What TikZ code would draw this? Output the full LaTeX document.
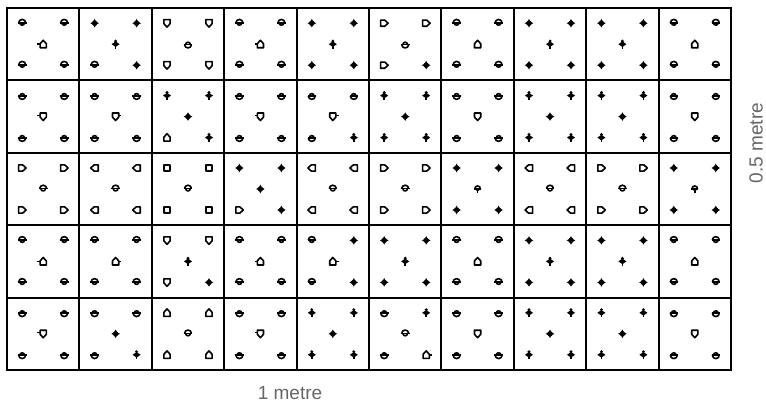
\documentclass[tikz,border=0pt]{standalone}
\usepackage{fontspec}
\setmainfont{Liberation Sans}

\tikzset{
  sym/.style={line width=1.6pt, line join=round},
  gridline/.style={line width=2pt},
  lbl/.style={font=\fontsize{19}{22}\selectfont, text=black!60, inner sep=0pt},
}

% plant symbols, #1 = position
\newcommand{\bellmark}{%
  \draw[sym] (-3.5,0.3) arc (180:0:3.5);
  \draw[sym] (-4.3,0.3) -- (4.3,0.3);
  \draw[sym] (-2.3,0.3) arc (180:360:2.3);}
\newcommand{\shieldmark}{%
  \draw[sym] (-3.1,3.6) -- (3.1,3.6) -- (3.1,-0.5) -- (0,-3.9) -- (-3.1,-0.5) -- cycle;}
\newcommand{\symO}[1]{\begin{scope}[shift={#1}]\bellmark\end{scope}}
\newcommand{\symU}[1]{\begin{scope}[shift={#1}, yscale=-1]\bellmark\end{scope}}
\newcommand{\symT}[1]{\begin{scope}[shift={#1}, scale=0.8]\bellmark
  \draw[sym] (0,-1.8) -- (0,-4.8);\end{scope}}
\newcommand{\symP}[1]{\begin{scope}[shift={#1}]\shieldmark\end{scope}}
\newcommand{\symH}[1]{\begin{scope}[shift={#1}, rotate=180]\shieldmark\end{scope}}
\newcommand{\symR}[1]{\begin{scope}[shift={#1}, rotate=90]\shieldmark\end{scope}}
\newcommand{\symL}[1]{\begin{scope}[shift={#1}, rotate=-90]\shieldmark\end{scope}}
\newcommand{\symS}[1]{\draw[sym, shift={#1}] (-3.1,-3.1) rectangle (3.1,3.1);}
\newcommand{\symh}[1]{\symH{#1}\draw[sym, shift={#1}] (-3.2,0) -- (-5.8,0);}
\newcommand{\symj}[1]{\symH{#1}\draw[sym, shift={#1}] (3.2,0) -- (5.8,0);}
\newcommand{\symp}[1]{\symP{#1}\draw[sym, shift={#1}] (-3.2,1.2) -- (-5.8,1.2);}
\newcommand{\symq}[1]{\symP{#1}\draw[sym, shift={#1}] (3.2,1.2) -- (5.8,1.2);}
\newcommand{\symK}[1]{\begin{scope}[shift={#1}]
  \fill (0,4.3) -- (1.5,1.5) -- (4.3,0) -- (1.5,-1.5) -- (0,-4.3) -- (-1.5,-1.5) -- (-4.3,0) -- (-1.5,1.5) -- cycle;
  \fill (0,0) circle (2.7);\end{scope}}
\newcommand{\symD}[1]{\begin{scope}[shift={#1}]
  \fill (0,2.8) -- (4,0) -- (0,-2.8) -- (-4,0) -- cycle;
  \fill (0,3.1) circle (1.6);
  \draw[sym] (0,-1.5) -- (0,-4.4);\end{scope}}

% one cell: x, y, top left, top right, bottom left, bottom right, middle
\newcommand{\plantcell}[7]{%
  \csname sym#3\endcsname{(#1-21,#2+21)}%
  \csname sym#4\endcsname{(#1+21,#2+21)}%
  \csname sym#5\endcsname{(#1-21,#2-21)}%
  \csname sym#6\endcsname{(#1+21,#2-21)}%
  \csname sym#7\endcsname{(#1,#2)}}

\begin{document}
\begin{tikzpicture}[x=1pt, y=1pt]
  \useasboundingbox (0,0) rectangle (766,405);

  \draw[gridline, shift={(7,35)}] (0,0) grid[xstep=72.4, ystep=72.4] (724.1,362.1);
  \draw[gridline] (7,35) rectangle (731,397);

  % row 1
  \foreach \pa/\pb/\pc/\pd/\pe [count=\i] in {O/O/O/O/h, K/K/O/K/D, P/P/P/P/U, O/O/O/O/h, K/K/K/K/D,
      R/R/R/K/U, O/O/O/O/H, K/K/K/K/D, K/K/K/K/D, O/O/O/O/H}
    {\pgfmathsetmacro\x{72.4*\i-29.2}\plantcell{\x}{360.8}{\pa}{\pb}{\pc}{\pd}{\pe}}
  % row 2
  \foreach \pa/\pb/\pc/\pd/\pe [count=\i] in {U/U/U/U/p, U/U/U/U/q, D/D/H/D/K, U/U/U/U/p, U/U/U/D/q,
      D/D/D/D/K, U/U/U/U/P, D/D/D/D/K, D/D/D/D/K, U/U/U/U/P}
    {\pgfmathsetmacro\x{72.4*\i-29.2}\plantcell{\x}{288.4}{\pa}{\pb}{\pc}{\pd}{\pe}}
  % row 3
  \foreach \pa/\pb/\pc/\pd/\pe [count=\i] in {R/R/R/R/O, L/L/L/L/O, S/S/S/S/O, K/K/R/K/K, L/L/L/L/O,
      R/R/R/R/O, K/K/K/K/T, L/L/L/L/O, R/R/R/R/O, K/K/K/K/T}
    {\pgfmathsetmacro\x{72.4*\i-29.2}\plantcell{\x}{216}{\pa}{\pb}{\pc}{\pd}{\pe}}
  % row 4
  \foreach \pa/\pb/\pc/\pd/\pe [count=\i] in {O/O/O/O/h, O/O/O/O/j, P/P/P/K/D, O/O/O/O/h, O/K/O/K/j,
      K/K/K/K/D, O/O/O/O/H, K/K/K/K/D, K/K/K/K/D, O/O/O/O/H}
    {\pgfmathsetmacro\x{72.4*\i-29.2}\plantcell{\x}{143.6}{\pa}{\pb}{\pc}{\pd}{\pe}}
  % row 5
  \foreach \pa/\pb/\pc/\pd/\pe [count=\i] in {U/U/U/U/p, U/U/U/D/K, H/H/H/H/O, U/U/U/U/p, D/D/D/D/K,
      U/D/U/j/O, U/U/U/U/P, D/D/D/D/K, D/D/D/D/K, U/U/U/U/P}
    {\pgfmathsetmacro\x{72.4*\i-29.2}\plantcell{\x}{71.2}{\pa}{\pb}{\pc}{\pd}{\pe}}

  \node[lbl] (width) at (290,12) {1 metre};
  \node[lbl, rotate=90] (height) at (756,262) {0.5 metre};
\end{tikzpicture}
\end{document}
